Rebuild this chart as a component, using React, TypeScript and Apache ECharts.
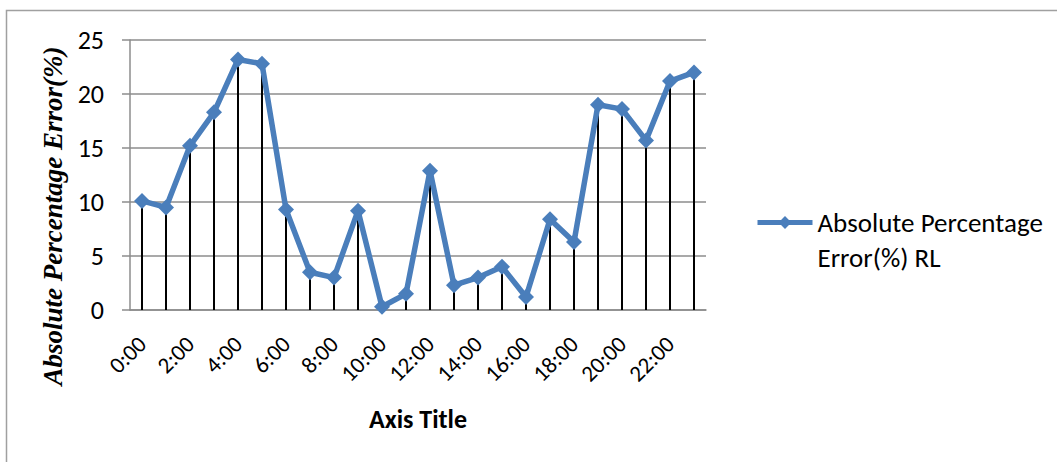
import React, { useEffect, useRef } from "react";
import * as echarts from "echarts";

const hours = [
  "0:00", "1:00", "2:00", "3:00", "4:00", "5:00", "6:00", "7:00",
  "8:00", "9:00", "10:00", "11:00", "12:00", "13:00", "14:00", "15:00",
  "16:00", "17:00", "18:00", "19:00", "20:00", "21:00", "22:00", "23:00",
];
const errorRL = [
  10.1, 9.5, 15.2, 18.3, 23.2, 22.8, 9.3, 3.5, 3.0, 9.2, 0.3, 1.5,
  12.9, 2.3, 3.0, 4.0, 1.2, 8.4, 6.3, 19.0, 18.6, 15.7, 21.2, 22.0,
];
const yMin = 0;
const yMax = 25;
const yStep = 5;

const seriesName = "Absolute Percentage Error(%) RL";
const legendLines = ["Absolute Percentage", "Error(%) RL"];
const yTitle = "Absolute Percentage Error(%)";
const xTitle = "Axis Title";

const SANS = "Carlito, Lato, 'Liberation Sans', sans-serif";
const BLUE = "#4a7ebb";
const GRAY = "#8c8c8c";

export default function App() {
  const ref = useRef<HTMLDivElement>(null);
  useEffect(() => {
    if (!ref.current) return;
    const chart = echarts.init(ref.current, undefined, { renderer: "svg" });
    chart.setOption({
      animation: false,
      backgroundColor: "#ffffff",
      graphic: [
        {
          type: "rect",
          shape: { x: 6.5, y: 10.5, width: 1100, height: 500 },
          style: { fill: "none", stroke: "#a0a0a0", lineWidth: 1.5 },
          silent: true,
        },
      ],
      grid: { left: 130, top: 40, width: 576, height: 270, containLabel: false },
      legend: {
        data: [seriesName],
        left: 755,
        top: 170,
        padding: 0,
        itemWidth: 55,
        itemHeight: 16,
        lineStyle: { width: 5, color: BLUE },
        itemStyle: { color: BLUE },
        formatter: () => "\n" + legendLines.join("\n"),
        textStyle: {
          fontFamily: SANS,
          fontSize: 27,
          color: "#000",
          lineHeight: 35,
        },
      },
      xAxis: {
        type: "category",
        data: hours,
        boundaryGap: true,
        axisLine: { show: true, lineStyle: { color: GRAY, width: 1.5 } },
        axisTick: { show: false },
        axisLabel: {
          interval: 1,
          rotate: 45,
          margin: 30,
          fontFamily: SANS,
          fontSize: 23,
          color: "#000",
        },
        name: xTitle,
        nameLocation: "middle",
        nameGap: 96,
        nameTextStyle: {
          fontFamily: SANS,
          fontSize: 26,
          fontWeight: "bold",
          color: "#000",
        },
      },
      yAxis: {
        type: "value",
        min: yMin,
        max: yMax,
        interval: yStep,
        axisLine: { show: true, lineStyle: { color: GRAY, width: 1.5 } },
        axisTick: { show: true, length: 8, lineStyle: { color: GRAY, width: 1.5 } },
        splitLine: { show: true, lineStyle: { color: GRAY, width: 1.5 } },
        axisLabel: {
          margin: 26,
          fontFamily: SANS,
          fontSize: 26,
          color: "#000",
        },
        name: yTitle,
        nameLocation: "middle",
        nameRotate: 90,
        nameGap: 62,
        nameTextStyle: {
          fontFamily: "'Liberation Serif', 'Times New Roman', serif",
          fontStyle: "italic",
          fontWeight: "bold",
          fontSize: 27,
          color: "#000",
          padding: [0, 82, 0, 0],
        },
      },
      series: [
        {
          name: "drop",
          type: "bar",
          data: errorRL,
          barWidth: 2,
          itemStyle: { color: "#000000" },
          z: 1,
          silent: true,
        },
        {
          name: seriesName,
          type: "line",
          data: errorRL,
          symbol: "diamond",
          symbolSize: 16,
          lineStyle: { color: BLUE, width: 5.5 },
          itemStyle: { color: BLUE },
          z: 3,
        },
      ],
    });
    return () => chart.dispose();
  }, []);
  return (
    <div
      ref={ref}
      style={{ position: "absolute", left: 0, top: 0, width: 1057, height: 462 }}
    />
  );
}
